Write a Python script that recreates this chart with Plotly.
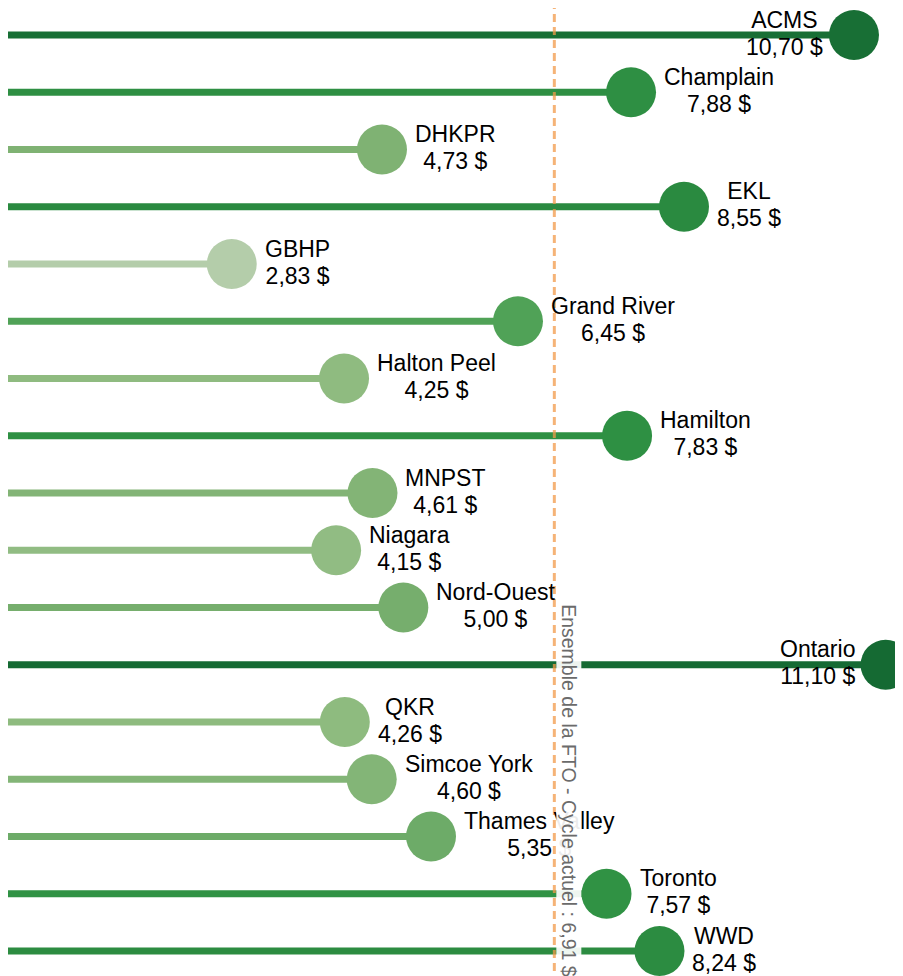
import plotly.graph_objects as go
from plotly.colors import sample_colorscale

# ---- data ----
regions = ["ACMS", "Champlain", "DHKPR", "EKL", "GBHP", "Grand River", "Halton Peel",
           "Hamilton", "MNPST", "Niagara", "Nord-Ouest", "Ontario", "QKR",
           "Simcoe York", "Thames Valley", "Toronto", "WWD"]
values = [10.70, 7.88, 4.73, 8.55, 2.83, 6.45, 4.25, 7.83, 4.61, 4.15, 5.00,
          11.10, 4.26, 4.60, 5.35, 7.57, 8.24]
fto_avg = 6.91
fto_label = "Ensemble de la FTO - Cycle actuel : 6,91 $"


def fmt(v):
    return f"{v:.2f}".replace(".", ",") + " $"


# ---- styling ----
colorscale = [[0.0, "#b4cdaa"], [0.17, "#8fbb80"], [0.26, "#77ae6d"],
              [0.44, "#4fa257"], [0.57, "#309244"], [0.69, "#2a8a40"],
              [1.0, "#156a33"]]
vmin, vmax = min(values), max(values)
colors = sample_colorscale(colorscale, [(v - vmin) / (vmax - vmin) for v in values])

FONT = "Liberation Sans, Arial, sans-serif"
GLYPH = "<span style='font-size:23px'>{}</span>"

fig = go.Figure()
for r, v, c in zip(regions, values, colors):
    fig.add_trace(go.Scatter(x=[0, v], y=[r, r], mode="lines",
                             line=dict(color=c, width=7), hoverinfo="skip"))
fig.add_trace(go.Scatter(x=values, y=regions, mode="markers",
                         marker=dict(size=50, color=colors, line=dict(width=0)),
                         hovertemplate="%{y}: %{x:.2f} $<extra></extra>"))

annotations = []
for r, v in zip(regions, values):
    left = v > 10
    annotations.append(dict(
        x=v, y=r, xref="x", yref="y", showarrow=False,
        text=GLYPH.format(r) + "<br>" + GLYPH.format(fmt(v)), align="center",
        xanchor="right" if left else "left",
        xshift=-29 if left else 31, yanchor="middle", yshift=2,
        font=dict(family=FONT, size=20.5, color="#000000")))

annotations.append(dict(
    x=fto_avg, y=0, xref="x", yref="paper", showarrow=False,
    text=fto_label, textangle=90, xanchor="left", yanchor="bottom",
    xshift=2, yshift=5, bgcolor="rgba(255,255,255,0.92)",
    font=dict(family=FONT, size=19.5, color="#6b6b6b")))

fig.add_shape(type="line", x0=fto_avg, x1=fto_avg, xref="x", y0=0, y1=1, yref="paper",
              line=dict(color="rgba(242,153,74,0.75)", width=3, dash="8px,5px"),
              layer="above")

fig.update_layout(
    width=895, height=976,
    margin=dict(l=0, r=0, t=0, b=0),
    plot_bgcolor="white", paper_bgcolor="white",
    showlegend=False, annotations=annotations,
    font=dict(family=FONT),
)
fig.update_xaxes(range=[0, 11.32], showgrid=False, zeroline=False,
                 showticklabels=False, showline=False, ticks="")
fig.update_yaxes(type="category", categoryarray=regions, range=[16.576, -0.472],
                 showgrid=False, zeroline=False, showticklabels=False,
                 showline=False, ticks="")

fig.write_html("out.html")
